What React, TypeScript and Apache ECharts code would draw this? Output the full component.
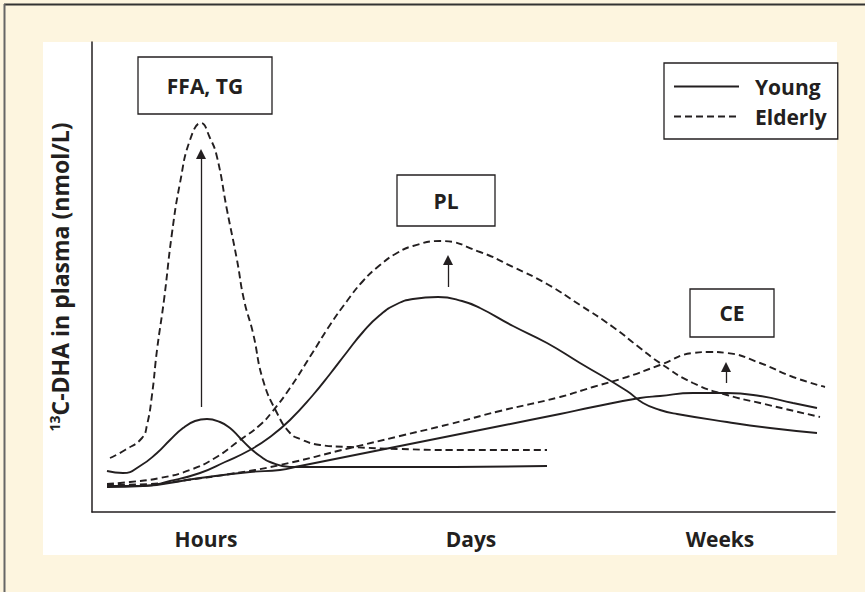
import React, { useEffect, useRef } from "react";
import * as echarts from "echarts";

// x/y in arbitrary time / concentration units (axis spans 0..743 and 0..470)
const xTickValues = [114, 379, 628];
const xTickLabels = ["Hours", "Days", "Weeks"];

const ffaYoung = [
  [15, 41], [31, 39], [48, 46], [65, 59], [78, 72], [91, 84], [103, 91], [115, 93],
  [128, 90], [138, 84], [148, 74], [158, 64], [168, 56], [178, 50], [198, 45], [228, 45],
  [308, 45], [455, 46],
];
const ffaElderly = [
  [18, 54], [33, 62], [50, 74], [55, 87], [60, 117], [65, 162], [72, 212], [80, 279],
  [88, 329], [98, 372], [109, 389], [118, 374], [125, 355], [135, 302], [145, 252],
  [152, 212], [161, 179], [171, 132], [185, 99], [198, 79], [208, 73], [228, 67],
  [258, 65], [308, 63], [358, 62], [455, 62],
];
const plYoung = [
  [15, 26], [51, 26], [78, 31], [108, 39], [133, 50], [158, 62], [178, 75], [198, 92],
  [221, 117], [238, 138], [255, 160], [271, 180], [288, 197], [305, 208], [321, 213],
  [346, 215], [370, 211], [388, 204], [421, 186], [455, 169], [488, 149], [535, 121],
  [551, 109], [568, 102], [585, 98], [635, 90], [678, 84], [725, 79],
];
const plElderly = [
  [15, 28], [38, 30], [68, 34], [98, 42], [123, 54], [148, 72], [168, 87], [180, 100],
  [198, 124], [221, 160], [238, 187], [255, 211], [271, 231], [288, 247], [305, 259],
  [321, 266], [348, 271], [388, 260], [421, 245], [455, 228], [488, 207], [521, 185],
  [548, 164], [568, 149], [601, 129], [635, 117], [668, 109], [728, 95],
];
const ceYoung = [
  [15, 25], [51, 26], [108, 34], [158, 40], [188, 42], [208, 46], [258, 56], [308, 66],
  [358, 76], [408, 86], [468, 98], [501, 105], [548, 114], [568, 116], [601, 119],
  [635, 119], [668, 116], [701, 109], [725, 104],
];
const ceElderly = [
  [15, 27], [58, 28], [95, 32], [138, 38], [188, 47], [258, 64], [308, 76], [358, 88],
  [408, 101], [468, 115], [501, 125], [535, 135], [568, 147], [601, 159], [618, 160],
  [635, 159], [668, 149], [701, 135], [733, 125],
];

// arrows: [x, from y, to y]
const arrows = [
  [109, 105, 358],
  [356, 225, 252],
  [634, 129, 145],
];

const INK = "#231f20";
const FONT = "'Open Sans', 'Noto Sans', sans-serif";

export default function App() {
  const ref = useRef<HTMLDivElement>(null);
  useEffect(() => {
    if (!ref.current) return;
    const chart = echarts.init(ref.current, undefined, { renderer: "svg" });
    const mk = (name: string, data: number[][], dashed: boolean, extra: any = {}) => ({
      type: "line",
      name,
      data,
      smooth: 0.5,
      symbol: "none",
      showSymbol: false,
      itemStyle: { color: INK },
      lineStyle: { color: INK, width: 1.9, type: dashed ? [7, 4] : "solid" },
      ...extra,
    });
    const box = (x: number, y: number, w: number, h: number, text: string) => ({
      type: "group",
      children: [
        {
          type: "rect",
          shape: { x, y, width: w, height: h },
          style: { fill: "#fff", stroke: INK, lineWidth: 1.3 },
        },
        {
          type: "text",
          x: x + w / 2,
          y: y + h / 2,
          style: {
            text,
            fill: INK,
            font: `bold 21px ${FONT}`,
            align: "center",
            verticalAlign: "middle",
          },
        },
      ],
    });
    chart.setOption({
      animation: false,
      backgroundColor: "#fdf5df",
      grid: { left: 92, top: 42, width: 743, height: 470, containLabel: false },
      legend: {
        data: ["Young", "Elderly"],
        orient: "vertical",
        left: 664,
        top: 63,
        padding: [13, 11, 12, 9],
        itemGap: 9,
        itemWidth: 65,
        itemHeight: 20,
        borderColor: INK,
        borderWidth: 1.3,
        backgroundColor: "#fff",
        itemStyle: { opacity: 0 },
        formatter: "{t|{name}}",
        textStyle: {
          rich: {
            t: {
              fontSize: 21,
              fontWeight: "bold",
              fontFamily: FONT,
              color: INK,
              padding: [0, 0, 0, 11],
            },
          },
        },
      },
      xAxis: {
        type: "value",
        min: 0,
        max: 743,
        splitLine: { show: false },
        axisTick: { show: false },
        axisLine: { show: true, lineStyle: { color: INK, width: 1.5 } },
        axisLabel: {
          customValues: xTickValues,
          formatter: (v: number) => xTickLabels[xTickValues.indexOf(v)] ?? "",
          margin: 16,
          fontSize: 21,
          fontWeight: "bold",
          fontFamily: FONT,
          color: INK,
        },
      },
      yAxis: {
        type: "value",
        min: 0,
        max: 470,
        splitLine: { show: false },
        axisTick: { show: false },
        axisLabel: { show: false },
        axisLine: { show: true, lineStyle: { color: INK, width: 1.5 } },
        name: "{sup|13}{m|C-DHA in plasma (nmol/L)}",
        nameLocation: "middle",
        nameRotate: 90,
        nameGap: 19,
        nameTextStyle: {
          rich: {
            sup: {
              fontSize: 14,
              fontWeight: "bold",
              fontFamily: FONT,
              color: INK,
              verticalAlign: "top",
              lineHeight: 26,
            },
            m: {
              fontSize: 23,
              fontWeight: "bold",
              fontFamily: FONT,
              color: INK,
              lineHeight: 26,
            },
          },
        },
      },
      graphic: [
        {
          type: "rect",
          z: -10,
          shape: { x: 43, y: 42, width: 794, height: 513 },
          style: { fill: "#fff" },
        },
        {
          type: "line",
          shape: { x1: 4, y1: 4.5, x2: 865, y2: 4.5 },
          style: { stroke: "#333", lineWidth: 2 },
        },
        {
          type: "line",
          shape: { x1: 4.5, y1: 4, x2: 4.5, y2: 592 },
          style: { stroke: "#666", lineWidth: 2 },
        },
        box(138, 57, 134, 57, "FFA, TG"),
        box(397, 175, 98, 51, "PL"),
        box(690, 289, 84, 48, "CE"),
      ],
      series: [
        mk("Young", ffaYoung, false, {
          markLine: {
            silent: true,
            symbol: ["none", "triangle"],
            symbolSize: 10,
            label: { show: false },
            lineStyle: { color: INK, width: 1.3, type: "solid" },
            data: arrows.map(([x, y1, y2]) => [{ coord: [x, y1] }, { coord: [x, y2] }]),
          },
        }),
        mk("Elderly", ffaElderly, true),
        mk("Young", plYoung, false),
        mk("Elderly", plElderly, true),
        mk("Young", ceYoung, false),
        mk("Elderly", ceElderly, true),
      ],
    });
    return () => chart.dispose();
  }, []);
  return (
    <div
      ref={ref}
      style={{ position: "fixed", left: 0, top: 0, width: 865, height: 592 }}
    />
  );
}
